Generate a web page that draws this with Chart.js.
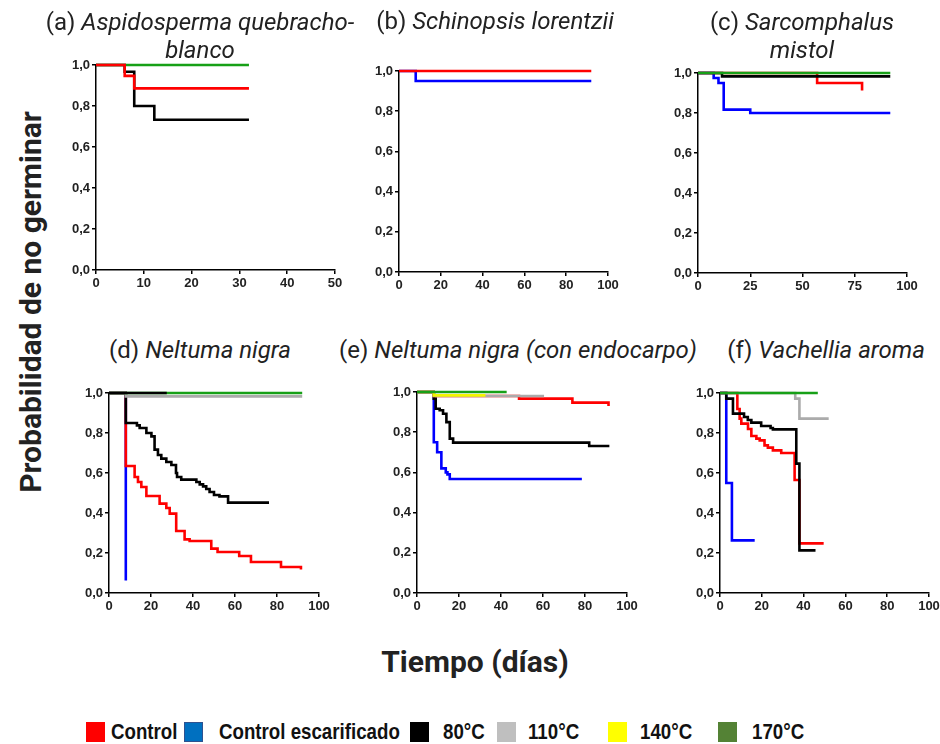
<!DOCTYPE html>
<html lang="es">
<head>
  <meta charset="UTF-8">
  <title>Probabilidad de no germinar</title>
  <script src="https://cdn.jsdelivr.net/npm/chart.js"></script>
  <style>
    body { margin: 0; background: #fff; }
    #page {
      position: relative;
      width: 940px;
      height: 744px;
      overflow: hidden;
      font-family: Roboto, "Noto Sans", sans-serif;
      color: #222;
    }
    .plot { position: absolute; }
    .title {
      position: absolute;
      font-size: 24px;
      line-height: 28px;
      text-align: center;
      white-space: nowrap;
      transform: translateX(-50%);
    }
    .ytitle {
      position: absolute;
      left: 30px;
      top: 302px;
      font-size: 30px;
      font-weight: 700;
      white-space: nowrap;
      transform: translate(-50%, -50%) rotate(-90deg);
    }
    .xtitle {
      position: absolute;
      left: 475px;
      top: 661px;
      font-size: 30px;
      font-weight: 700;
      white-space: nowrap;
      transform: translate(-50%, -50%);
    }
    .leg-box { position: absolute; top: 722px; width: 19px; height: 20px; }
    .leg-txt {
      position: absolute;
      top: 718px;
      font-family: "Liberation Sans", Arial, sans-serif;
      font-weight: 700;
      font-size: 22px;
      line-height: 28px;
      color: #111;
      white-space: nowrap;
      transform: scaleX(0.85);
      transform-origin: left center;
    }
  </style>
</head>
<body>
<div id="page">
  <div class="ytitle">Probabilidad de no germinar</div>
  <div class="xtitle">Tiempo (días)</div>
</div>

<script>
  // tratamientos (leyenda)
  const treatments = ['Control', 'Control escarificado', '80°C', '110°C', '140°C', '170°C'];

  // títulos de los paneles
  const panelTags = ['(a)', '(b)', '(c)', '(d)', '(e)', '(f)'];
  const panelSpecies = [
    ['Aspidosperma quebracho-', 'blanco'],
    ['Schinopsis lorentzii'],
    ['Sarcomphalus', 'mistol'],
    ['Neltuma nigra'],
    ['Neltuma nigra (con endocarpo)'],
    ['Vachellia aroma']
  ];

  // eje x de cada panel (días)
  const xMax = [50, 100, 100, 100, 100, 100];
  const xStep = [10, 20, 25, 20, 20, 20];
  const yTicks = [0, 0.2, 0.4, 0.6, 0.8, 1.0];

  // curvas de Kaplan-Meier: [día, probabilidad]
  // (a) Aspidosperma quebracho-blanco
  const a_control = [[0, 1], [6, 0.947], [8, 0.886], [32, 0.886]];
  const a_80 = [[0, 1], [6, 0.967], [8, 0.8], [12.2, 0.733], [32, 0.733]];
  const a_170 = [[0, 1], [32, 1]];

  // (b) Schinopsis lorentzii
  const b_control = [[0, 1], [92, 1]];
  const b_escar = [[0, 1], [8, 0.95], [92, 0.95]];

  // (c) Sarcomphalus mistol
  const c_control = [[0, 1], [57, 0.95], [78.5, 0.912]];
  const c_escar = [[0, 1], [7.5, 0.975], [9.8, 0.95], [12.3, 0.817], [25, 0.80], [92, 0.80]];
  const c_80 = [[0, 1], [11.5, 0.983], [92, 0.983]];
  const c_170 = [[0, 1], [92, 1]];

  // (d) Neltuma nigra
  const d_control = [[0, 1], [8, 0.635], [12.2, 0.58], [13.8, 0.555], [15.4, 0.53], [17.8, 0.485],
    [24.1, 0.447], [27.3, 0.425], [28.9, 0.397], [32, 0.31], [36, 0.268], [38.4, 0.26],
    [48.7, 0.222], [51.7, 0.205], [62, 0.185], [67.6, 0.155], [81.9, 0.13], [91.4, 0.118]];
  const d_escar = [[0, 1], [8, 0.063]];
  const d_80 = [[0, 1], [8, 0.85], [13.3, 0.838], [14.6, 0.825], [17.8, 0.80], [20.2, 0.783],
    [21.7, 0.717], [23.3, 0.69], [24.9, 0.672], [27.3, 0.655], [29.7, 0.64], [31.9, 0.60],
    [32.4, 0.58], [34.4, 0.567], [41.6, 0.555], [43.2, 0.543], [44.8, 0.533], [46.3, 0.52],
    [47.9, 0.505], [50, 0.49], [52.6, 0.483], [56.7, 0.452], [76.2, 0.452]];
  const d_80_upper = [[0, 1], [27.5, 1]];   // trazo negro sobre 1,0
  const d_110 = [[0, 1], [8, 0.983], [92, 0.983]];
  const d_170 = [[0, 1], [92, 1]];

  // (e) Neltuma nigra (con endocarpo)
  const e_control = [[0, 1], [8, 0.98], [48.6, 0.967], [74, 0.947], [91.2, 0.93]];
  const e_escar = [[0, 1], [8, 0.75], [9.6, 0.70], [11.6, 0.62], [13.7, 0.60], [14.5, 0.59],
    [15.6, 0.567], [78.5, 0.567]];
  const e_80 = [[0, 1], [8, 0.967], [8.9, 0.917], [10.8, 0.909], [12.4, 0.892], [14, 0.85],
    [15.6, 0.768], [17.2, 0.748], [82, 0.731], [91.6, 0.731]];
  const e_110 = [[0, 1], [8, 0.98], [60.5, 0.98]];
  const e_140 = [[0, 1], [8, 0.983], [32.6, 0.983]];
  const e_170 = [[0, 1], [42.7, 1]];

  // (f) Vachellia aroma
  const f_control = [[0, 1], [8.3, 0.92], [9.4, 0.872], [10.2, 0.847], [13.4, 0.82], [15, 0.785],
    [17.4, 0.772], [19, 0.763], [21.3, 0.738], [22.9, 0.727], [25.3, 0.713], [29.3, 0.70],
    [35.7, 0.565], [38, 0.248], [49.6, 0.248]];
  const f_escar = [[0, 1], [3, 0.55], [5.7, 0.263], [16.6, 0.263]];
  const f_80 = [[0, 1], [3, 0.972], [6.2, 0.897], [11.5, 0.88], [13.3, 0.865], [15, 0.852],
    [19.7, 0.835], [24.2, 0.825], [25.3, 0.818], [36.5, 0.647], [38, 0.213], [45.7, 0.213]];
  const f_110 = [[0, 1], [36, 0.972], [38, 0.872], [52, 0.872]];
  const f_170 = [[0, 1], [46.8, 1]];

  // colores
  const RED = '#ff0000', BLUE = '#0000ff', BLACK = '#000000', GRAY = '#ababab',
        YELLOW = '#f5f500', GREEN = '#17a017';
  const legendColors = ['#ff0000', '#0070c0', '#000000', '#bfbfbf', '#ffff00', '#548235'];

  // primero = dibujado encima
  const panelSeries = [
    [[a_control, RED], [a_80, BLACK], [a_170, GREEN]],
    [[b_control, RED], [b_escar, BLUE]],
    [[c_170, GREEN], [c_80, BLACK], [c_control, RED], [c_escar, BLUE]],
    [[d_80_upper, BLACK], [d_170, GREEN], [d_110, GRAY], [d_80, BLACK], [d_control, RED], [d_escar, BLUE]],
    [[e_170, GREEN], [e_140, YELLOW], [e_110, GRAY], [e_control, RED], [e_80, BLACK], [e_escar, BLUE]],
    [[f_170, GREEN], [f_110, GRAY], [f_80, BLACK], [f_control, RED], [f_escar, BLUE]]
  ];

  // área de trazado de cada panel en la página: izquierda, derecha, arriba, abajo
  const plotBoxes = [
    [96, 335, 65, 270],
    [399, 608, 71, 272],
    [698, 907, 73, 273],
    [109, 319, 393, 593],
    [417, 627, 392, 593],
    [720, 929, 393, 593]
  ];
  const titlePos = [[200, 8], [495, 7], [802, 8], [200, 336], [518, 336], [826, 336]];

  const Y_W = 45, X_H = 26, PAD_T = 12, PAD_R = 14;
  const page = document.getElementById('page');

  panelSeries.forEach((series, i) => {
    const [L, R, T, B] = plotBoxes[i];
    const canvas = document.createElement('canvas');
    const w = (R - L) + Y_W + PAD_R;
    const h = (B - T) + PAD_T + X_H;
    canvas.width = w;
    canvas.height = h;
    canvas.className = 'plot';
    canvas.style.left = (L - Y_W) + 'px';
    canvas.style.top = (T - PAD_T) + 'px';
    canvas.style.width = w + 'px';
    canvas.style.height = h + 'px';
    page.appendChild(canvas);

    const t = document.createElement('div');
    t.className = 'title';
    t.style.left = titlePos[i][0] + 'px';
    t.style.top = titlePos[i][1] + 'px';
    t.innerHTML = panelTags[i] + ' <i>' + panelSpecies[i][0] + '</i>' +
      (panelSpecies[i][1] ? '<br><i>' + panelSpecies[i][1] + '</i>' : '');
    page.appendChild(t);

    const tickFont = { family: '"Liberation Sans", Arial, sans-serif', size: 13, weight: 'bold' };
    const axisGrid = { display: true, drawOnChartArea: false, drawTicks: true, tickLength: 4, color: '#000', lineWidth: 1.5 };
    const axisBorder = { display: true, color: '#000', width: 1.5 };

    new Chart(canvas, {
      type: 'line',
      data: {
        datasets: series.map(([pts, col]) => ({
          data: pts.map(p => ({ x: p[0], y: p[1] })),
          borderColor: col,
          borderWidth: 2.6,
          pointRadius: 0,
          stepped: 'before',
          fill: false,
          clip: false
        }))
      },
      options: {
        responsive: false,
        devicePixelRatio: 1,
        animation: false,
        layout: { padding: { top: PAD_T, right: PAD_R, left: 0, bottom: 0 } },
        plugins: { legend: { display: false }, tooltip: { enabled: false }, title: { display: false } },
        scales: {
          x: {
            type: 'linear',
            min: 0,
            max: xMax[i],
            afterFit: s => { s.height = X_H; },
            ticks: { stepSize: xStep[i], font: tickFont, color: '#222', padding: 2, maxRotation: 0 },
            grid: axisGrid,
            border: axisBorder
          },
          y: {
            min: 0,
            max: 1,
            afterFit: s => { s.width = Y_W; },
            afterBuildTicks: s => { s.ticks = yTicks.map(v => ({ value: v })); },
            ticks: {
              font: tickFont,
              color: '#222',
              padding: 2,
              callback: v => v.toFixed(1).replace('.', ',')
            },
            grid: axisGrid,
            border: axisBorder
          }
        }
      }
    });
  });

  // leyenda
  const legBoxX = [86, 184, 410, 497, 608, 718];
  const legTxtX = [111, 219, 443, 528, 640, 752];
  treatments.forEach((name, k) => {
    const b = document.createElement('div');
    b.className = 'leg-box';
    b.style.left = legBoxX[k] + 'px';
    b.style.background = legendColors[k];
    if (k === 1) { b.style.boxSizing = 'border-box'; b.style.border = '1.5px solid #2f528f'; }
    page.appendChild(b);
    const s = document.createElement('div');
    s.className = 'leg-txt';
    s.style.left = legTxtX[k] + 'px';
    s.textContent = name;
    page.appendChild(s);
  });
</script>
</body>
</html>
